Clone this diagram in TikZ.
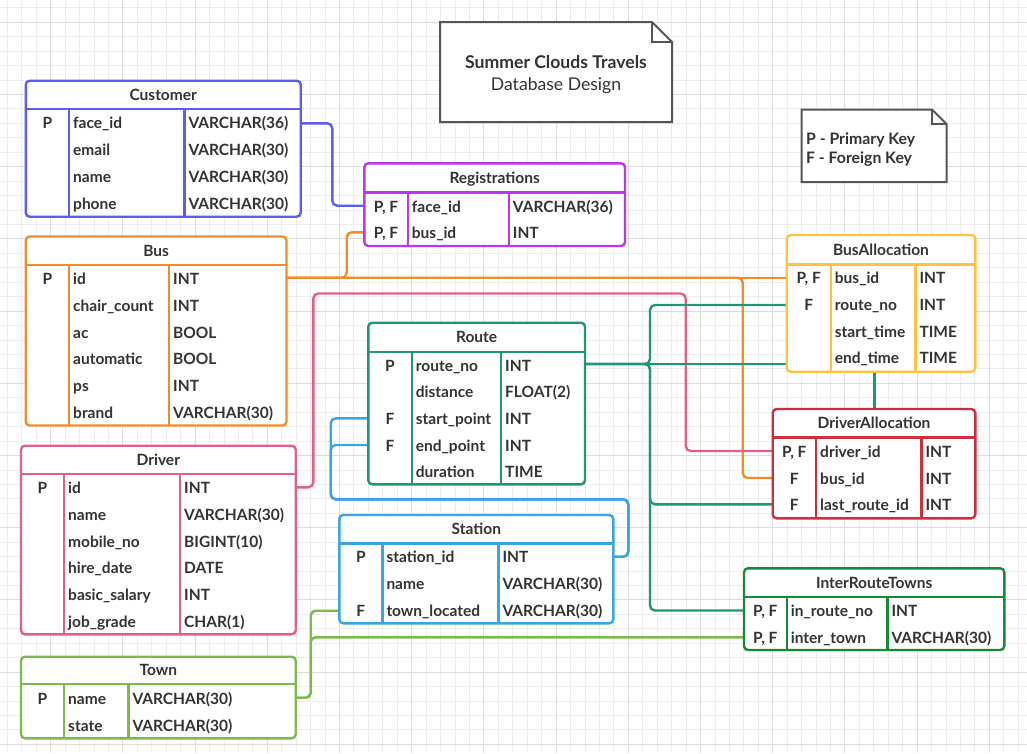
\documentclass[tikz,border=0pt]{standalone}
\usepackage{fontspec}
\setmainfont{Lato}
\definecolor{txt}{HTML}{333333}
\definecolor{custblue}{RGB}{92,92,244}
\definecolor{regpurple}{RGB}{189,53,239}
\definecolor{busorange}{RGB}{242,140,40}
\definecolor{bayellow}{RGB}{253,194,62}
\definecolor{routeteal}{RGB}{31,150,121}
\definecolor{dared}{RGB}{207,46,62}
\definecolor{driverpink}{RGB}{224,96,138}
\definecolor{stationblue}{RGB}{58,166,224}
\definecolor{towngreen}{RGB}{124,186,76}
\definecolor{irtgreen}{RGB}{19,138,54}
\definecolor{gridminor}{HTML}{EDEDED}
\definecolor{gridmajor}{HTML}{DCDCDC}
\definecolor{notegray}{HTML}{555555}
\tikzset{
  tbox/.style={rounded corners=4pt, line width=2.4pt, inner sep=0pt, outer sep=0pt, fill=white},
  tline/.style={line width=2.4pt},
  conn/.style={line width=2.4pt, rounded corners=5pt},
  htxt/.style={font=\fontsize{15.5}{18}\selectfont\bfseries, text=txt, anchor=base, inner sep=0pt},
  ktxt/.style={font=\fontsize{15.5}{18}\selectfont\bfseries, text=txt, anchor=base, inner sep=0pt},
  ftxt/.style={font=\fontsize{15.5}{18}\selectfont\bfseries, text=txt, anchor=base west, inner sep=0pt},
  notebox/.style={line width=2pt, draw=notegray, fill=white},
}
% table frame: name, colour, x1, y1, x2, y2, header separator y, title
\newcommand\tframe[8]{%
  \node[tbox, draw=#2, minimum width={(#5-#3)*1pt}, minimum height={(#6-#4)*1pt}] (#1) at ({(#3+#5)/2},{(#4+#6)/2}) {};
  \draw[#2, tline] (#3,#7) -- (#5,#7);
  \node[htxt] (#1-title) at ({(#3+#5)/2},{(#4+#7)/2+5.5}) {#8};
}
% column separators: colour, c1, c2, header y, bottom y
\newcommand\tcols[5]{%
  \draw[#1, tline] (#2,#4) -- (#2,#5);
  \draw[#1, tline] (#3,#4) -- (#3,#5);
}
% row: name, x1, c1, c2, y, key, field, type
\newcommand\trow[8]{%
  \coordinate (#1) at (#2,#5);
  \node[ktxt] (#1-k) at ({(#2+#3)/2},{#5+5.5}) {#6};
  \node[ftxt] (#1-f) at ({#3+4},{#5+5.5}) {#7};
  \node[ftxt] (#1-t) at ({#4+4},{#5+5.5}) {#8};
}
\begin{document}
\begin{tikzpicture}[x=1pt,y=-1pt]
\useasboundingbox (0,0) rectangle (1027,753);
\fill[white] (0,0) rectangle (1027,753);
% grid
\foreach \i in {-3,...,67} {
  \pgfmathsetmacro\gx{50.7+14.44*\i}
  \draw[gridminor, line width=0.9pt] (\gx,0) -- (\gx,753);
}
\foreach \j in {-1,...,50} {
  \pgfmathsetmacro\gy{22.3+14.44*\j}
  \draw[gridminor, line width=0.9pt] (0,\gy) -- (1027,\gy);
}
\foreach \i in {0,...,13} {
  \pgfmathsetmacro\gx{50.7+72.2*\i}
  \draw[gridmajor, line width=1pt] (\gx,0) -- (\gx,753);
}
\foreach \j in {0,...,10} {
  \pgfmathsetmacro\gy{22.3+72.2*\j}
  \draw[gridmajor, line width=1pt] (0,\gy) -- (1027,\gy);
}

% ---------- notes ----------
\draw[notebox] (440,22) -- (652,22) -- (672,42) -- (672,122) -- (440,122) -- cycle;
\draw[notegray, line width=2pt] (652,22) -- (652,42) -- (672,42);
\node[font=\fontsize{17.6}{20}\selectfont\bfseries, text=txt, anchor=base, inner sep=0pt] (title1) at (556,68.3) {Summer Clouds Travels};
\node[font=\fontsize{17.6}{20}\selectfont, text=txt, anchor=base, inner sep=0pt] (title2) at (556,90.3) {Database Design};

\draw[notebox] (801.5,109.5) -- (932,109.5) -- (946.5,124) -- (946.5,182) -- (801.5,182) -- cycle;
\draw[notegray, line width=2pt] (932,109.5) -- (932,124) -- (946.5,124);
\node[font=\fontsize{15.8}{18}\selectfont\bfseries, text=txt, anchor=base west, inner sep=0pt] (leg1) at (806,144) {P - Primary Key};
\node[font=\fontsize{15.8}{18}\selectfont\bfseries, text=txt, anchor=base west, inner sep=0pt] (leg2) at (806,163.3) {F - Foreign Key};

% ---------- named connector points ----------
\coordinate (c-cust-bend) at (332.3,160);
\coordinate (c-bus-e) at (286.5,277.7);
\coordinate (c-reg-bend) at (346.7,250);
\coordinate (c-ba-busid) at (786.7,277.7);
\coordinate (c-da-orange) at (742.7,400);
\coordinate (c-drv-e) at (295.7,487.3);
\coordinate (c-pink-a) at (313.3,293.5);
\coordinate (c-pink-b) at (685.7,293.5);
\coordinate (c-rt-e) at (585,364);
\coordinate (c-ba-low) at (786.7,364);
\coordinate (c-teal-top) at (650,305);
\coordinate (c-teal-bot) at (650,610.5);
\coordinate (c-st-e) at (613.3,556.7);
\coordinate (c-blue-a) at (628.3,499.3);
\coordinate (c-blue-b) at (330.7,499.3);
\coordinate (c-twn-e) at (295.7,697.7);
\coordinate (c-green-a) at (310.7,650);

% ---------- connectors ----------
% Customer -> Registrations
\draw[conn, custblue] (300.7,123.3) -| (c-cust-bend) |- (364.3,205.7);
% Bus -> BusAllocation
\draw[conn, busorange] (c-bus-e) -- (c-ba-busid);
% Bus -> Registrations
\draw[conn, busorange] (c-bus-e) -| (c-reg-bend) |- (364.3,232.3);
% Bus -> DriverAllocation
\draw[conn, busorange] (c-bus-e) -| (c-da-orange) |- (772.7,478);
% Driver -> DriverAllocation
\draw[conn, driverpink] (c-drv-e) -| (c-pink-a) -- (c-pink-b) |- (772.7,451);
% Route -> BusAllocation
\draw[conn, routeteal] (c-rt-e) -- (c-ba-low);
\draw[conn, routeteal] (c-rt-e) -| (c-teal-top) -- (786.7,305);
\draw[conn, routeteal] (c-rt-e) -| (650,504.3) -- (772.7,504.3);
\draw[conn, routeteal] (c-rt-e) -| (c-teal-bot) -- (744,610.5);
\draw[conn, routeteal] (874.3,371.7) -- (874.3,409);
% Station -> Route
\draw[conn, stationblue] (c-st-e) -| (c-blue-a) -- (c-blue-b) |- (368.3,418.3);
\draw[conn, stationblue] (c-st-e) -| (c-blue-a) -- (c-blue-b) |- (368.3,445);
% Town -> Station, InterRouteTowns
\draw[conn, towngreen] (c-twn-e) -| (c-green-a) |- (339.3,610.7);
\draw[conn, towngreen] (c-twn-e) -| (c-green-a) |- (744,637.3);

% ---------- tables ----------
% Customer
\tframe{cust}{custblue}{25.7}{80.7}{300.7}{216.7}{109}{Customer}
\tcols{custblue}{69}{184.3}{109}{216.7}
\trow{cust1}{25.7}{69}{184.3}{123.3}{P}{face\_id}{VARCHAR(36)}
\trow{cust2}{25.7}{69}{184.3}{150.3}{}{email}{VARCHAR(30)}
\trow{cust3}{25.7}{69}{184.3}{177}{}{name}{VARCHAR(30)}
\trow{cust4}{25.7}{69}{184.3}{204}{}{phone}{VARCHAR(30)}
% Registrations
\tframe{reg}{regpurple}{364.3}{163.3}{625}{246}{192.3}{Registrations}
\tcols{regpurple}{407.7}{508.7}{192.3}{246}
\trow{reg1}{364.3}{407.7}{508.7}{206.7}{P, F}{face\_id}{VARCHAR(36)}
\trow{reg2}{364.3}{407.7}{508.7}{233.3}{P, F}{bus\_id}{INT}
% Bus
\tframe{bus}{busorange}{25.7}{236.5}{286.5}{425.5}{265}{Bus}
\tcols{busorange}{69}{169}{265}{425.5}
\trow{bus1}{25.7}{69}{169}{279.3}{P}{id}{INT}
\trow{bus2}{25.7}{69}{169}{306}{}{chair\_count}{INT}
\trow{bus3}{25.7}{69}{169}{332.7}{}{ac}{BOOL}
\trow{bus4}{25.7}{69}{169}{359.3}{}{automatic}{BOOL}
\trow{bus5}{25.7}{69}{169}{386}{}{ps}{INT}
\trow{bus6}{25.7}{69}{169}{412.7}{}{brand}{VARCHAR(30)}
% BusAllocation
\tframe{ba}{bayellow}{786.7}{235}{975.3}{371.7}{264.3}{BusAllocation}
\tcols{bayellow}{830.7}{915.3}{264.3}{371.7}
\trow{ba1}{786.7}{830.7}{915.3}{278.3}{P, F}{bus\_id}{INT}
\trow{ba2}{786.7}{830.7}{915.3}{305}{F}{route\_no}{INT}
\trow{ba3}{786.7}{830.7}{915.3}{331.7}{}{start\_time}{TIME}
\trow{ba4}{786.7}{830.7}{915.3}{358.3}{}{end\_time}{TIME}
% Route
\tframe{rt}{routeteal}{368.3}{322.7}{585}{484.3}{351.7}{Route}
\tcols{routeteal}{411.7}{501}{351.7}{484.3}
\trow{rt1}{368.3}{411.7}{501}{365.7}{P}{route\_no}{INT}
\trow{rt2}{368.3}{411.7}{501}{392.3}{}{distance}{FLOAT(2)}
\trow{rt3}{368.3}{411.7}{501}{418.9}{F}{start\_point}{INT}
\trow{rt4}{368.3}{411.7}{501}{445.5}{F}{end\_point}{INT}
\trow{rt5}{368.3}{411.7}{501}{472.1}{}{duration}{TIME}
% DriverAllocation
\tframe{da}{dared}{772.7}{409}{975.3}{518.3}{437.3}{DriverAllocation}
\tcols{dared}{816}{921.3}{437.3}{518.3}
\trow{da1}{772.7}{816}{921.3}{452.3}{P, F}{driver\_id}{INT}
\trow{da2}{772.7}{816}{921.3}{479}{F}{bus\_id}{INT}
\trow{da3}{772.7}{816}{921.3}{505.3}{F}{last\_route\_id}{INT}
% Driver
\tframe{drv}{driverpink}{21}{445.7}{295.7}{634.3}{474}{Driver}
\tcols{driverpink}{64}{180}{474}{634.3}
\trow{drv1}{21}{64}{180}{488.3}{P}{id}{INT}
\trow{drv2}{21}{64}{180}{515}{}{name}{VARCHAR(30)}
\trow{drv3}{21}{64}{180}{541.7}{}{mobile\_no}{BIGINT(10)}
\trow{drv4}{21}{64}{180}{568.3}{}{hire\_date}{DATE}
\trow{drv5}{21}{64}{180}{595}{}{basic\_salary}{INT}
\trow{drv6}{21}{64}{180}{621.7}{}{job\_grade}{CHAR(1)}
% Station
\tframe{st}{stationblue}{339.3}{515}{613.3}{623.3}{543.3}{Station}
\tcols{stationblue}{382.3}{498.3}{543.3}{623.3}
\trow{st1}{339.3}{382.3}{498.3}{557.3}{P}{station\_id}{INT}
\trow{st2}{339.3}{382.3}{498.3}{584.3}{}{name}{VARCHAR(30)}
\trow{st3}{339.3}{382.3}{498.3}{611.3}{F}{town\_located}{VARCHAR(30)}
% Town
\tframe{twn}{towngreen}{21}{656.7}{295.7}{738.3}{684}{Town}
\tcols{towngreen}{64}{128.3}{684}{738.3}
\trow{twn1}{21}{64}{128.3}{699.3}{P}{name}{VARCHAR(30)}
\trow{twn2}{21}{64}{128.3}{725.7}{}{state}{VARCHAR(30)}
% InterRouteTowns
\tframe{irt}{irtgreen}{744}{568.3}{1004.3}{650}{596.7}{InterRouteTowns}
\tcols{irtgreen}{786.7}{887.3}{596.7}{650}
\trow{irt1}{744}{786.7}{887.3}{611}{P, F}{in\_route\_no}{INT}
\trow{irt2}{744}{786.7}{887.3}{637.7}{P, F}{inter\_town}{VARCHAR(30)}
\end{tikzpicture}
\end{document}
